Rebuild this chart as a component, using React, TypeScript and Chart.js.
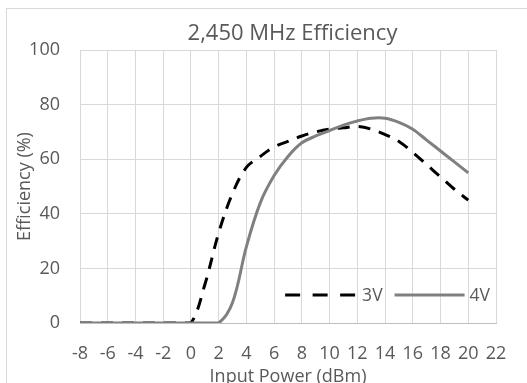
import { useEffect, useRef } from "react";
import { Chart, registerables } from "chart.js";

Chart.register(...registerables);

const chartTitle = "2,450 MHz Efficiency";
const xAxisTitle = "Input Power (dBm)";
const yAxisTitle = "Efficiency (%)";
const seriesLabels = ["3V", "4V"];

const inputPowerDbm = [-8, -7, -6, -5, -4, -3, -2, -1, 0, 1, 2, 3, 4, 5, 6, 7, 8, 9, 10, 11, 12, 13, 14, 15, 16, 17, 18, 19, 20];
const efficiency3V = [0, 0, 0, 0, 0, 0, 0, 0, 0, 14, 33, 47.5, 57, 61, 64.5, 66.5, 68.5, 70, 71, 71.5, 72, 71, 69, 66.5, 62.5, 58, 53.5, 49, 45];
const efficiency4V = [0, 0, 0, 0, 0, 0, 0, 0, 0, 0, 0, 7.5, 28, 44, 54, 61, 66, 68.5, 70.5, 72.5, 74, 75, 75, 73.5, 71, 67, 63, 59, 55];

const xMin = -8;
const xMax = 22;
const xStep = 2;
const yMin = 0;
const yMax = 100;
const yStep = 20;

const FONT = "'Open Sans', sans-serif";
const TEXT = "#595959";

const CANVAS_W = 527;
const CANVAS_H = 398;

const titlePlugin = {
  id: "excelTitle",
  afterDraw(chart: any) {
    const { ctx, chartArea } = chart;
    ctx.save();
    ctx.font = `22px ${FONT}`;
    ctx.fillStyle = TEXT;
    ctx.textAlign = "center";
    ctx.textBaseline = "middle";
    ctx.fillText(chartTitle, (chartArea.left + chartArea.right) / 2 + 4.5, chartArea.top - 16);
    ctx.restore();
  },
};

const legendPlugin = {
  id: "insideLegend",
  afterDraw(chart: any) {
    const { ctx, chartArea } = chart;
    ctx.save();
    ctx.font = `17.5px ${FONT}`;
    ctx.fillStyle = TEXT;
    ctx.textBaseline = "middle";
    ctx.textAlign = "left";
    const y = chartArea.bottom - 28;
    let x = chartArea.right - 6;
    const w4 = ctx.measureText(seriesLabels[1]).width;
    ctx.fillText(seriesLabels[1], x - w4, y + 1);
    x -= w4 + 5;
    ctx.strokeStyle = "#808080";
    ctx.lineWidth = 3;
    ctx.beginPath();
    ctx.moveTo(x - 70, y);
    ctx.lineTo(x, y);
    ctx.stroke();
    x -= 70 + 12;
    const w3 = ctx.measureText(seriesLabels[0]).width;
    ctx.fillText(seriesLabels[0], x - w3, y + 1);
    x -= w3 + 7;
    ctx.strokeStyle = "#000000";
    ctx.setLineDash([15, 12.5]);
    ctx.beginPath();
    ctx.moveTo(x - 70, y);
    ctx.lineTo(x, y);
    ctx.stroke();
    ctx.restore();
  },
};

export default function App() {
  const ref = useRef<HTMLCanvasElement | null>(null);

  useEffect(() => {
    if (!ref.current) return;
    const chart = new Chart(ref.current, {
      type: "line",
      data: {
        datasets: [
          {
            label: seriesLabels[0],
            data: inputPowerDbm.map((x, i) => ({ x, y: efficiency3V[i] })),
            borderColor: "#000000",
            borderWidth: 3,
            borderDash: [12, 9],
            pointRadius: 0,
            tension: 0.35,
            fill: false,
            order: 2,
          },
          {
            label: seriesLabels[1],
            data: inputPowerDbm.map((x, i) => ({ x, y: efficiency4V[i] })),
            borderColor: "#808080",
            borderWidth: 3,
            pointRadius: 0,
            tension: 0.35,
            fill: false,
            order: 1,
          },
        ],
      },
      options: {
        responsive: false,
        animation: false,
        devicePixelRatio: 1,
        layout: { padding: { left: 0, right: 31, top: 50, bottom: 0 } },
        plugins: {
          legend: { display: false },
          title: { display: false },
          tooltip: { enabled: false },
        },
        scales: {
          x: {
            type: "linear",
            min: xMin,
            max: xMax,
            afterFit(scale: any) {
              scale.height = CANVAS_H - 323;
            },
            ticks: {
              stepSize: xStep,
              color: TEXT,
              font: { family: FONT, size: 18 },
              padding: 20,
              maxRotation: 0,
              autoSkip: false,
            },
            grid: { color: "#d9d9d9", lineWidth: 1, drawTicks: false },
            border: { display: true, color: "#bfbfbf", width: 1 },
            title: {
              display: true,
              text: xAxisTitle,
              color: TEXT,
              font: { family: FONT, size: 18 },
              padding: { top: 10, bottom: 10 },
            },
          },
          y: {
            type: "linear",
            min: yMin,
            max: yMax,
            afterFit(scale: any) {
              scale.width = 80;
            },
            ticks: {
              stepSize: yStep,
              color: TEXT,
              font: { family: FONT, size: 18 },
              padding: 20,
            },
            grid: { color: "#d9d9d9", lineWidth: 1, drawTicks: false },
            border: { display: false },
            title: {
              display: true,
              text: yAxisTitle,
              color: TEXT,
              font: { family: FONT, size: 18 },
              padding: { top: 14, bottom: 0 },
            },
          },
        },
      },
      plugins: [titlePlugin, legendPlugin],
    });
    return () => chart.destroy();
  }, []);

  return (
    <div
      style={{
        position: "fixed",
        left: 0,
        top: 0,
        width: CANVAS_W,
        height: 383,
        overflow: "hidden",
        background: "#ffffff",
      }}
    >
      <div
        style={{
          position: "absolute",
          left: 6,
          top: 8,
          width: 600,
          height: 500,
          border: "1px solid #d9d9d9",
          boxSizing: "border-box",
        }}
      />
      <canvas
        ref={ref}
        width={CANVAS_W}
        height={CANVAS_H}
        style={{ position: "absolute", left: 0, top: 0, width: CANVAS_W, height: CANVAS_H }}
      />
    </div>
  );
}
